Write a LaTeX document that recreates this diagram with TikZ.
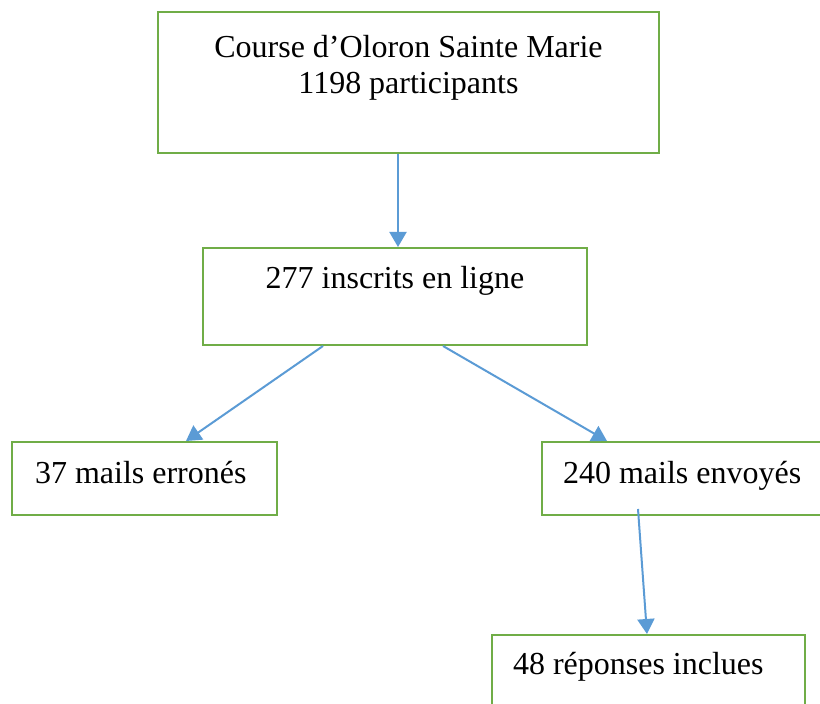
\documentclass[tikz,border=0pt]{standalone}
\usepackage{fontspec}
\setmainfont{Liberation Serif}
\usetikzlibrary{arrows.meta}
\definecolor{boxgreen}{RGB}{112,173,71}
\definecolor{arrowblue}{RGB}{91,155,213}
\tikzstyle{flow}=[x=0.5pt, y=-0.5pt, font=\fontsize{16}{18}\selectfont]
\tikzstyle{box}=[rectangle, draw=boxgreen, line width=1pt, inner ysep=0pt, fill=white]
\tikzstyle{topbox}=[box, inner xsep=0pt, text width=250.5pt, align=flush center, text height=23pt, text depth=47.5pt]
\tikzstyle{midbox}=[box, inner xsep=0pt, text width=192pt, align=flush center, text height=20.5pt, text depth=28pt]
\tikzstyle{leaf}=[box, inner xsep=10.5pt, align=flush left, text height=21pt, text depth=15.5pt]
\tikzstyle{edge}=[draw=arrowblue, line width=1pt, -{Triangle[width=8.5pt,length=7.5pt]}]
\begin{document}
\begin{tikzpicture}[flow]
	\useasboundingbox (0,0) rectangle (820,704);
	
	%The top box
	\draw (408.5,82.5) node[topbox] (course) {Course d'Oloron Sainte Marie\\1198 participants};
	
	%The second level
	\draw (395,296.5) node[midbox] (online) {277 inscrits en ligne};
	
	%The two branches
	\draw (144.5,478.5) node[leaf, inner xsep=11.5pt, text width=109.5pt] (wrong) {37 mails erronés};
	\draw (688.5,478.5) node[leaf, text width=125.5pt] (sent) {240 mails envoyés};
	
	%The last box
	\draw (648.5,674) node[leaf, text width=135.5pt, text height=20pt, text depth=19pt] (answers) {48 réponses inclues};
	
	\draw[edge] ([xshift=-5.25pt]course.south) -- ([xshift=1.5pt]online.north);
	\draw[edge] ([xshift=-36pt]online.south) -- ([xshift=20.75pt]wrong.north);
	\draw[edge] ([xshift=24pt]online.south) -- ([xshift=-40.75pt]sent.north);
	\draw[edge] ([xshift=-25.25pt, yshift=3.5pt]sent.south) -- ([xshift=-0.75pt]answers.north);
\end{tikzpicture}
\end{document}
